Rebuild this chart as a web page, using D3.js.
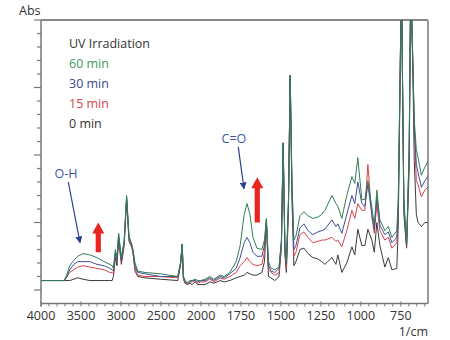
<!DOCTYPE html>
<html>
<head>
<meta charset="utf-8">
<script src="https://cdn.jsdelivr.net/npm/d3@7"></script>
<style>
  body { margin: 0; background: #fff; }
  text { font-family: "Open Sans", sans-serif; }
</style>
</head>
<body>
<div id="chart"></div>
<script>
// wavenumbers (1/cm), shared by the four spectra
const wavenumbers = [
  4000, 3850, 3710, 3675, 3640, 3590, 3540, 3475, 3390, 3300,
  3210, 3140, 3110, 3095, 3070, 3050, 3030, 2995, 2960, 2930,
  2900, 2866, 2850, 2825, 2790, 2700, 2510, 2290, 2255, 2235,
  2220, 2200, 2170, 2140, 2110, 2075, 2040, 2000, 1975, 1945,
  1920, 1880, 1855, 1820, 1780, 1755, 1730, 1712, 1694, 1675,
  1650, 1619, 1603, 1591, 1578, 1562, 1538, 1512, 1497, 1486,
  1475, 1466, 1453, 1442, 1431, 1419, 1406, 1381, 1356, 1331,
  1300, 1269, 1244, 1225, 1181, 1156, 1144, 1119, 1088, 1056,
  1038, 1019, 994, 975, 956, 931, 916, 900, 881, 850,
  828, 806, 775, 766, 746, 731, 714, 698, 688, 675,
  666, 653, 642, 621, 600, 581
];

// absorbance after 60 min of UV
const abs60 = [
  .07, .07, .07, .12, .18, .22, .25, .27, .26, .24,
  .21, .19, .18, .16, .30, .24, .42, .24, .37, .70,
  .40, .34, .30, .20, .14, .13, .12, .10, .21, .34,
  .10, .07, .05, .07, .07, .08, .07, .07, .08, .10,
  .08, .11, .10, .13, .21, .33, .56, .64, .56, .39,
  .31, .30, .37, .53, .21, .16, .15, .17, .37, 1.09,
  .33, .21, .67, 1.59, .81, .37, .40, .55, .58, .55,
  .53, .54, .56, .59, .70, .64, .62, .53, .70, .84,
  .79, .98, .67, .67, .81, .61, .48, .74, .52, .44,
  .47, .39, .44, .67, 2.3, .67, .34, 1.04, 2.3, 1.70,
  1.26, 1.04, .98, .85, .91, .95
];

// 30 min
const abs30 = [
  .07, .07, .07, .10, .15, .19, .21, .21, .21, .19,
  .18, .16, .15, .14, .28, .22, .41, .22, .36, .69,
  .39, .33, .29, .18, .13, .12, .10, .10, .20, .34,
  .10, .07, .05, .06, .07, .07, .06, .07, .07, .09,
  .07, .10, .09, .12, .16, .24, .35, .39, .35, .28,
  .25, .25, .33, .52, .18, .14, .13, .16, .36, 1.09,
  .31, .19, .64, 1.59, .78, .30, .33, .46, .49, .44,
  .41, .43, .44, .45, .52, .47, .49, .42, .56, .70,
  .64, .80, .64, .62, .78, .56, .45, .69, .48, .41,
  .43, .35, .39, .63, 2.3, .63, .33, 1.00, 2.3, 1.70,
  1.22, .93, .87, .76, .81, .84
];

// 15 min
const abs15 = [
  .07, .07, .07, .10, .13, .15, .17, .18, .17, .16,
  .15, .13, .13, .12, .27, .21, .39, .21, .35, .68,
  .37, .33, .28, .16, .11, .10, .10, .09, .19, .34,
  .09, .06, .04, .06, .06, .07, .05, .06, .06, .08,
  .06, .09, .08, .10, .13, .18, .21, .24, .21, .19,
  .18, .19, .28, .51, .15, .13, .11, .13, .34, 1.09,
  .30, .16, .62, 1.59, .74, .25, .28, .41, .43, .39,
  .35, .36, .37, .37, .39, .36, .37, .32, .44, .59,
  .53, .64, .59, .59, .93, .54, .42, .64, .44, .37,
  .39, .31, .35, .59, 2.3, .61, .32, .96, 2.3, 1.70,
  1.19, .81, .78, .69, .74, .76
];

// 0 min (before irradiation)
const abs0 = [
  .07, .07, .07, .07, .07, .08, .09, .08, .07, .07,
  .07, .07, .07, .10, .24, .18, .37, .19, .33, .67,
  .36, .32, .27, .14, .10, .09, .08, .07, .19, .33,
  .08, .05, .04, .05, .04, .06, .04, .04, .04, .06,
  .05, .07, .06, .07, .09, .10, .11, .13, .12, .11,
  .11, .13, .21, .50, .10, .09, .07, .10, .31, 1.08,
  .26, .13, .59, 1.59, .67, .18, .21, .30, .31, .27,
  .24, .23, .21, .19, .24, .19, .26, .13, .20, .32,
  .26, .45, .33, .33, .45, .37, .28, .50, .33, .17,
  .24, .15, .16, .48, 2.3, .56, .31, .89, 2.3, 1.63,
  .96, .56, .50, .47, .50, .50
];

const seriesNames = ["60 min", "30 min", "15 min", "0 min"];
const seriesColors = ["#2f7f55", "#3f4f98", "#d8434c", "#3a3a3a"];
const legendColors = ["#3f9a5e", "#3a4b8f", "#d9434b", "#333333"];
const xTickLabels = [4000, 3500, 3000, 2500, 2000, 1750, 1500, 1250, 1000, 750];

const width = 450, height = 340;
const mLeft = 41, mRight = 428, mTop = 20, mBottom = 303.5;

const svg = d3.select("#chart").append("svg")
  .attr("width", width)
  .attr("height", height);

// x axis is compressed by half above 2000 1/cm
const x = d3.scaleLinear().domain([4000, 2000, 580]).range([mLeft, 201, mRight]);
const y = d3.scaleLinear().domain([-0.1, 2.0]).range([mBottom, mTop]);

svg.append("clipPath").attr("id", "plot")
  .append("rect")
  .attr("x", mLeft).attr("y", mTop)
  .attr("width", mRight - mLeft).attr("height", mBottom - mTop);

// frame
svg.append("line")
  .attr("x1", mLeft).attr("x2", mRight).attr("y1", mTop).attr("y2", mTop)
  .attr("stroke", "#111").attr("stroke-width", 1.2);
svg.append("line")
  .attr("x1", mRight).attr("x2", mRight).attr("y1", mTop).attr("y2", mBottom)
  .attr("stroke", "#9a9a9a").attr("stroke-width", 2);

// y axis, no labels
const yMinor = d3.range(0, 21).map(i => i / 10);
const yAxis = svg.append("g").attr("stroke", "#777");
yAxis.append("line")
  .attr("x1", mLeft).attr("x2", mLeft).attr("y1", mTop).attr("y2", mBottom + 3)
  .attr("stroke-width", 1.5);
yAxis.selectAll(".yt")
  .data(yMinor)
  .enter().append("line")
  .attr("x1", d => (Math.round(d * 10) % 5 == 0) ? mLeft - 7 : mLeft - 4)
  .attr("x2", mLeft)
  .attr("y1", d => y(d)).attr("y2", d => y(d))
  .attr("stroke-width", 1.2);

// x axis
const xMinor = d3.range(4000, 2000, -100).concat(d3.range(2000, 580, -50));
const xAxis = svg.append("g").attr("stroke", "#777");
xAxis.append("line")
  .attr("x1", mLeft).attr("x2", mRight).attr("y1", mBottom).attr("y2", mBottom)
  .attr("stroke-width", 1.5);
xAxis.selectAll(".xt")
  .data(xMinor)
  .enter().append("line")
  .attr("x1", d => x(d)).attr("x2", d => x(d))
  .attr("y1", d => mBottom - (xTickLabels.includes(d) ? 2 : 0))
  .attr("y2", mBottom + 3)
  .attr("stroke-width", 1);

svg.selectAll(".xl")
  .data(xTickLabels)
  .enter().append("text")
  .attr("x", d => x(d))
  .attr("y", 319.5)
  .attr("text-anchor", "middle")
  .attr("font-size", 12.5)
  .attr("fill", "#333")
  .text(d => d);

svg.append("text")
  .attr("x", mRight).attr("y", 336)
  .attr("text-anchor", "end")
  .attr("font-size", 12.5)
  .attr("fill", "#333")
  .text("1/cm");

svg.append("text")
  .attr("x", 19).attr("y", 15)
  .attr("font-size", 12.5)
  .attr("fill", "#333")
  .text("Abs");

// spectra, 0 min drawn first so 60 min ends on top
const allSeries = [abs60, abs30, abs15, abs0];
const line = d3.line()
  .x((d, i) => x(wavenumbers[i]))
  .y(d => y(d));

svg.append("g")
  .attr("clip-path", "url(#plot)")
  .selectAll("path")
  .data(d3.range(3, -1, -1))
  .enter().append("path")
  .attr("d", k => line(allSeries[k]))
  .attr("fill", "none")
  .attr("stroke", k => seriesColors[k])
  .attr("stroke-width", 1)
  .attr("stroke-linejoin", "round");

// legend
svg.append("text")
  .attr("x", 69).attr("y", 48)
  .attr("font-size", 12.5)
  .attr("fill", "#333")
  .text("UV Irradiation");

svg.selectAll(".lg")
  .data(seriesNames)
  .enter().append("text")
  .attr("x", 69)
  .attr("y", (d, i) => 68 + i * 20)
  .attr("font-size", 12.5)
  .attr("fill", (d, i) => legendColors[i])
  .text(d => d);

// annotations
const defs = svg.append("defs");
defs.append("marker")
  .attr("id", "head")
  .attr("viewBox", "0 0 10 10")
  .attr("refX", 9).attr("refY", 5)
  .attr("markerWidth", 7).attr("markerHeight", 7)
  .attr("markerUnits", "userSpaceOnUse")
  .attr("orient", "auto")
  .append("path")
  .attr("d", "M0,0 L10,5 L0,10 Z")
  .attr("fill", "#2b3f8f");

const notes = [
  {label: "O-H", tx: 3688, ty: 0.83, from: [3659, 0.80], to: [3512, 0.35]},
  {label: "C=O", tx: 1794, ty: 1.09, from: [1767, 1.06], to: [1731, 0.75]}
];

notes.forEach(n => {
  svg.append("text")
    .attr("x", x(n.tx)).attr("y", y(n.ty))
    .attr("text-anchor", "middle")
    .attr("font-size", 12.5)
    .attr("fill", "#3d56a0")
    .text(n.label);
  svg.append("line")
    .attr("x1", x(n.from[0])).attr("y1", y(n.from[1]))
    .attr("x2", x(n.to[0])).attr("y2", y(n.to[1]))
    .attr("stroke", "#2b3f8f").attr("stroke-width", 1.2)
    .attr("marker-end", "url(#head)");
});

// big red arrows showing the growth
const growth = [
  {wn: 3284, from: 0.28, to: 0.50},
  {wn: 1648, from: 0.50, to: 0.835}
];

function redArrow(cx, yb, yt) {
  const sw = 2.6, hw = 6, hh = 11;
  return `M${cx - sw},${yb} L${cx - sw},${yt + hh} L${cx - hw},${yt + hh} ` +
    `L${cx},${yt} L${cx + hw},${yt + hh} L${cx + sw},${yt + hh} L${cx + sw},${yb} Z`;
}

svg.selectAll(".ga")
  .data(growth)
  .enter().append("path")
  .attr("d", d => redArrow(x(d.wn), y(d.from), y(d.to)))
  .attr("fill", "#e8261f");
</script>
</body>
</html>
